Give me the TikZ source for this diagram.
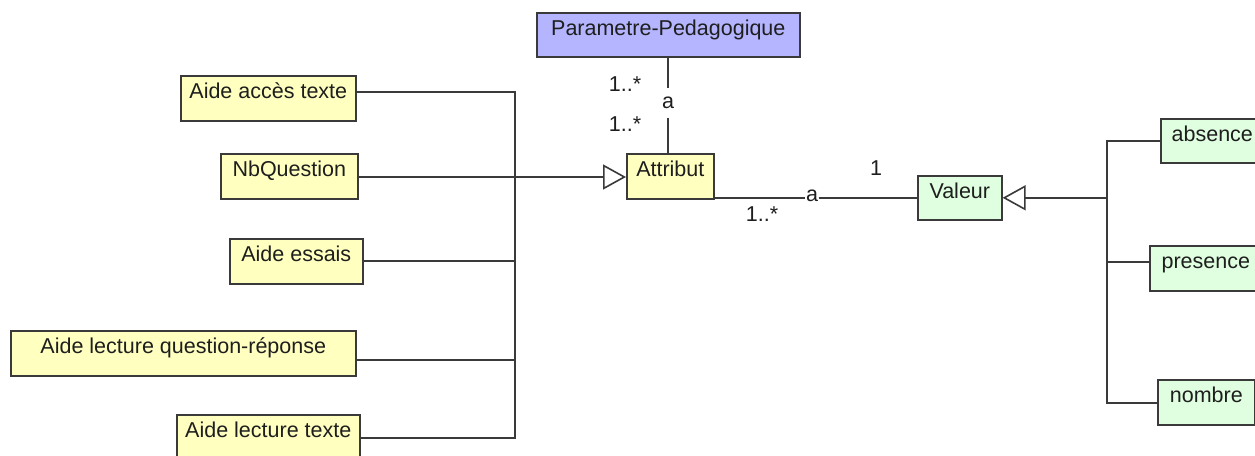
\documentclass[tikz,border=0pt]{standalone}
\usepackage{fontspec}
\setmainfont{Liberation Sans}
\usetikzlibrary{arrows.meta}
\definecolor{lineC}{HTML}{3A3A3A}
\definecolor{txtC}{HTML}{1E1E1E}
\definecolor{yelC}{HTML}{FFFFC0}
\definecolor{bluC}{HTML}{B4B4FF}
\definecolor{grnC}{HTML}{E0FFE0}
\tikzset{
  umlfont/.style={font=\fontsize{21.5pt}{25pt}\selectfont, text=txtC},
  classbox/.style={draw=lineC, line width=1.6pt, umlfont, anchor=north west,
    inner xsep=0pt, inner ysep=0pt, text height=23pt, text depth=22pt, align=center},
  yelbox/.style={classbox, fill=yelC},
  blubox/.style={classbox, fill=bluC, text depth=21pt},
  grnbox/.style={classbox, fill=grnC},
  conn/.style={draw=lineC, line width=1.6pt},
  gen/.style={conn, -{Triangle[open, length=23pt, width=25pt, line width=1.6pt]}},
  mult/.style={umlfont, inner sep=0pt},
  assoc/.style={umlfont, fill=white, inner xsep=1pt},
}
\begin{document}
\begin{tikzpicture}[x=1pt,y=-1pt]
\useasboundingbox (0,0) rectangle (1255,455);
\clip (0,0) rectangle (1255,455);
\fill[white] (0,0) rectangle (1255,455);

% classes
\node[blubox, minimum width=263pt] (P) at (536,12) {Parametre-Pedagogique};
\node[yelbox, minimum width=175pt] (A1) at (180,75) {Aide accès texte};
\node[yelbox, minimum width=137pt] (NB) at (220,153) {NbQuestion};
\node[yelbox, minimum width=133pt] (AE) at (229,238) {Aide essais};
\node[yelbox, minimum width=345pt] (ALQ) at (10,330) {Aide lecture question-réponse};
\node[yelbox, minimum width=183pt] (ALT) at (176,414) {Aide lecture texte};
\node[yelbox, minimum width=87pt] (AT) at (626,153) {Attribut};
\node[grnbox, minimum width=84pt, text depth=21pt] (V) at (917,175) {Valeur};
\node[grnbox, minimum width=103pt, text depth=21pt] (AB) at (1160,118) {absence};
\node[grnbox, minimum width=112pt] (PR) at (1149,245) {presence};
\node[grnbox, minimum width=97pt] (NO) at (1157,379) {nombre};

% left generalization bus
\coordinate (cA1) at ([yshift=-17pt]A1.north east);
\coordinate (cNB) at ([yshift=-24pt]NB.north east);
\coordinate (cAE) at ([yshift=-23pt]AE.north east);
\coordinate (cALQ) at ([yshift=-30pt]ALQ.north east);
\coordinate (cALT) at ([yshift=-24pt]ALT.north east);
\coordinate (busT) at (515,92);
\coordinate (busB) at (515,438);
\draw[conn] (cA1) -- (cA1 -| busT) -- (busB) -- (cALT);
\draw[conn] (cAE) -- (cAE -| busT);
\draw[conn] (cALQ) -- (cALQ -| busT);
\draw[gen] (cNB) -- (cNB -| AT.west);

% Parametre - Attribut association
\node[assoc, minimum height=29pt, inner ysep=0pt] (a1) at (668,103) {a};
\draw[conn] (P.south -| a1) -- (a1);
\draw[conn] (a1) -- (a1 |- AT.north);
\node[mult] (m1) at (625,84) {1..*};
\node[mult] (m2) at (625,124) {1..*};

% Attribut - Valeur association
\coordinate (cAT) at ([yshift=1.5pt]AT.south east);
\node[assoc, inner sep=0.5pt] (a2) at (812,196) {a};
\draw[conn] (cAT) -- (cAT -| a2.west);
\draw[conn] (cAT -| a2.east) -- (cAT -| V.west);
\node[mult] (m3) at (762,214) {1..*};
\node[mult] (m4) at (876,168) {1};

% right generalization bus
\coordinate (rbT) at (1107,141);
\coordinate (rbB) at (1107,403);
\coordinate (cAB) at ([yshift=-23pt]AB.north west);
\coordinate (cPR) at ([yshift=-17pt]PR.north west);
\coordinate (cNO) at ([yshift=-24pt]NO.north west);
\draw[conn] (cAB) -- (cAB -| rbT) -- (rbB) -- (cNO);
\draw[conn] (cPR) -- (cPR -| rbT);
\draw[gen] (V.east -| rbT) -- (V.east);
\end{tikzpicture}
\end{document}
